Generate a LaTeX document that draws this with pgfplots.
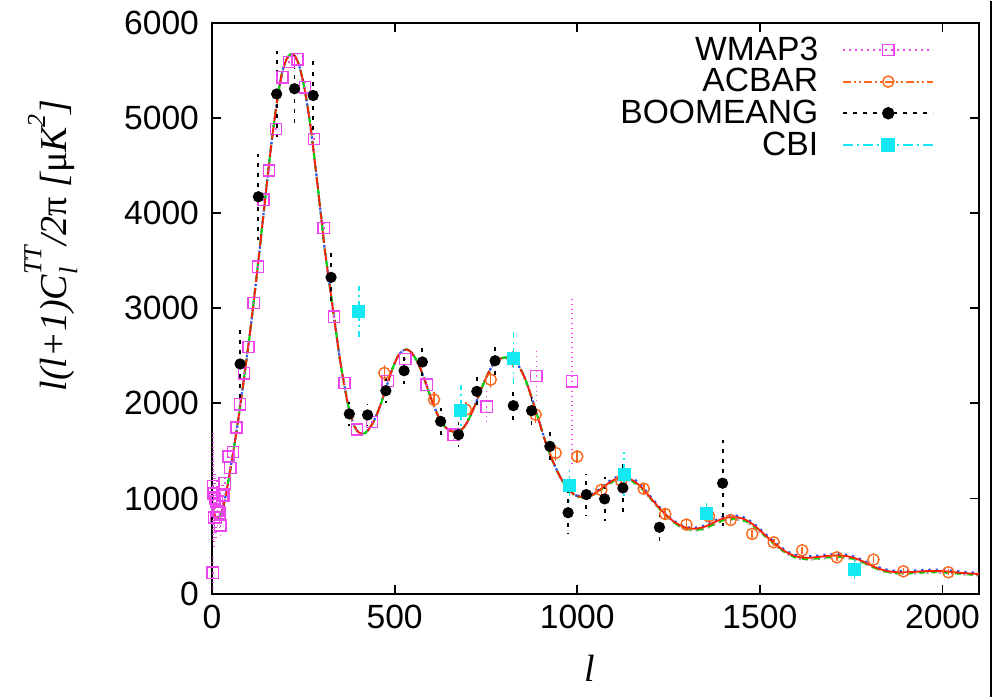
\documentclass[border=0pt]{standalone}
\usepackage{pgfplots}
\pgfplotsset{compat=1.18}
\usepackage{pgfplotstable}
\usepackage{fontspec}
\setmainfont{Liberation Sans}
\newfontfamily\serifit{Liberation Serif}

\definecolor{wmapc}{RGB}{238,70,238}
\definecolor{acbarc}{RGB}{255,102,25}
\definecolor{cbic}{RGB}{20,232,240}
\definecolor{thred}{RGB}{255,30,0}
\definecolor{thblue}{RGB}{40,80,255}
\definecolor{thgreen}{RGB}{0,215,0}
\definecolor{thgray}{RGB}{160,160,160}

% theory curve, shared part (l <= 1000)
\pgfplotstableread{
l d
2 900
10 800
20 810
30 900
40 1080
50 1300
60 1530
70 1780
80 2050
90 2330
100 2620
110 2930
120 3260
130 3600
140 3950
150 4300
160 4640
170 4950
180 5220
190 5440
200 5580
210 5650
220 5670
230 5630
240 5530
250 5370
260 5160
270 4900
280 4590
290 4260
300 3920
310 3580
320 3300
330 3020
340 2740
350 2470
360 2240
370 2030
380 1870
390 1760
400 1700
410 1680
420 1690
430 1730
440 1790
450 1870
460 1970
470 2080
480 2200
490 2320
500 2420
510 2500
520 2545
530 2565
540 2555
550 2515
560 2450
570 2370
580 2270
590 2160
600 2050
610 1950
620 1860
630 1790
640 1745
650 1715
660 1700
670 1700
680 1715
690 1750
700 1810
710 1890
720 1980
730 2080
740 2175
750 2265
760 2345
770 2405
780 2445
790 2470
800 2480
810 2480
820 2470
830 2440
840 2390
850 2320
860 2230
870 2120
880 2000
890 1880
900 1755
910 1630
920 1520
930 1420
940 1330
950 1250
960 1180
970 1125
980 1080
990 1045
1000 1025
}\lowl

% theory curves, l >= 1000: red blue green gray
\pgfplotstableread{
l r b g k
1000 1025 1030 1020 1018
1020 1015 1020 1010 1008
1040 1035 1045 1030 1027
1060 1085 1095 1078 1074
1080 1145 1160 1136 1131
1100 1195 1212 1184 1178
1120 1222 1240 1208 1202
1140 1212 1232 1198 1192
1160 1170 1190 1158 1152
1180 1100 1118 1090 1085
1200 1010 1025 1002 998
1220 920 932 912 908
1240 840 850 832 828
1260 770 780 762 758
1280 720 728 710 706
1300 690 698 678 674
1320 682 692 668 663
1340 692 705 676 670
1360 720 735 702 696
1380 758 775 740 733
1400 790 808 772 765
1420 803 822 786 779
1440 800 818 784 777
1460 778 795 764 758
1480 730 745 718 713
1500 665 680 655 650
1520 595 610 586 582
1540 528 542 518 514
1560 468 482 458 454
1580 420 434 410 406
1600 390 404 378 374
1620 378 392 365 360
1640 378 392 364 358
1660 385 399 370 364
1680 394 408 378 372
1700 400 414 384 378
1720 400 414 385 379
1740 392 406 378 373
1760 372 386 360 355
1780 342 355 332 328
1800 305 318 296 292
1820 270 283 262 258
1840 245 258 236 232
1860 230 243 220 216
1880 224 237 213 209
1900 224 237 212 208
1920 228 241 215 211
1940 233 246 220 216
1960 237 250 224 220
1980 238 251 225 221
2000 236 249 223 219
2020 230 243 218 214
2040 222 235 211 207
2060 215 228 205 201
2080 210 222 200 196
2100 206 218 196 192
}\highl

\pgfplotstableread{
l d e
2 220 180
3 1130 560
4 1050 480
6 800 350
8 1000 300
11 800 250
13 970 220
15 870 200
20 850 170
23 715 150
28 1030 130
32 1030 120
35 1160 110
45 1440 100
50 1320 90
58 1490 80
67 1745 70
77 1990 60
88 2315 55
100 2590 55
114 3055 55
126 3435 60
141 4140 60
156 4445 65
175 4880 70
193 5425 70
211 5585 75
234 5615 80
255 5320 85
279 4775 85
306 3840 80
334 2910 75
363 2215 60
397 1725 50
438 1805 55
481 2235 70
529 2465 80
588 2195 85
661 1670 100
752 1965 180
888 2285 300
986 2230 890
}\wmap

\pgfplotstableread{
l d e
472 2318 90
608 2038 80
695 1933 80
763 2248 90
823 2465 90
886 1880 90
941 1478 80
1000 1440 70
1066 1089 60
1120 1187 60
1182 1103 55
1241 837 50
1299 725 45
1361 812 45
1420 774 45
1479 627 40
1538 539 35
1616 455 35
1711 381 35
1811 357 35
1893 234 30
2016 224 30
}\acbar

\pgfplotstableread{
l d e
77 2413 370
127 4170 450
177 5250 450
226 5305 400
277 5234 380
326 3323 260
376 1888 130
426 1877 120
476 2132 130
526 2342 140
576 2434 150
626 1810 140
675 1670 130
725 2125 150
775 2447 170
825 1975 190
875 1922 190
925 1547 200
975 850 220
1025 1040 220
1075 995 230
1125 1110 300
1225 697 170
1398 1160 450
}\boom

\pgfplotstableread{
l d e
402 2965 265
681 1930 260
826 2476 270
979 1134 200
1128 1257 230
1354 848 120
1759 259 120
}\cbi

\newcommand{\subsz}{\fontsize{13}{15}\selectfont}
\tikzset{
  acbardash/.style={dash pattern=on 4pt off 1.5pt on 1pt off 1.5pt on 1pt off 1.5pt},
  boomdash/.style={dash pattern=on 2pt off 3pt},
  cbidash/.style={dash pattern=on 5pt off 2pt on 1pt off 2pt},
}

\begin{document}
\begin{tikzpicture}
\begin{axis}[
    scale only axis,
    width=383.5pt,
    height=285.5pt,
    xmin=0, xmax=2100,
    ymin=0, ymax=6000,
    xtick={0,500,...,2000},
    ytick={0,1000,...,6000},
    minor tick num=0,
    tick align=inside,
    major tick length=4.5pt,
    axis line style={line width=0.9pt},
    tick style={black, line width=0.9pt},
    tick label style={font=\fontsize{16.8}{20}\selectfont},
    /pgf/number format/assume math mode=true,
    /pgf/number format/set thousands separator={},
    xticklabel style={yshift=-2pt},
    yticklabel style={xshift=-3pt},
    xlabel={\serifit\itshape\fontsize{19}{22}\selectfont l},
    xlabel style={at={(axis description cs:0.493,-0.131)}, anchor=center},
    ylabel={\serifit\itshape\fontsize{19}{22}\selectfont l(l+1)C\makebox[0pt][l]{\raisebox{0.65em}{\subsz TT}}\makebox[0pt][l]{\raisebox{-0.3em}{\subsz l}}\phantom{\subsz TT}/2{\upshape π} [{\upshape μ}K\raisebox{0.55em}{\subsz 2}]},
    ylabel style={at={(axis description cs:-0.21,0.61)}, anchor=center},
    legend plot pos=right,
    legend cell align=right,
    legend style={at={(0.95,0.99)}, anchor=north east, draw=none, fill=none,
        font=\fontsize{16.8}{20}\selectfont, row sep=-1.4pt,
        /tikz/every odd column/.append style={column sep=10pt}},
    legend image code/.code={
        \draw[mark repeat=2, mark phase=2, #1] plot coordinates {(0pt,0pt) (22.5pt,0pt) (45pt,0pt)};
    },
]
% legend samples
\addlegendimage{wmapc, dotted, line width=1pt, mark=square, mark size=2.8pt, mark options={solid, line width=0.7pt}}
\addlegendentry{WMAP3}
\addlegendimage{acbarc, acbardash, line width=1pt, mark=o, mark size=2.8pt, mark options={solid, line width=0.7pt}}
\addlegendentry{ACBAR}
\addlegendimage{black, boomdash, line width=1pt, mark=*, mark size=2.6pt, mark options={solid}}
\addlegendentry{BOOMEANG}
\addlegendimage{cbic, cbidash, line width=1pt, mark=square*, mark size=3pt, mark options={solid}}
\addlegendentry{CBI}

% theory curves
\addplot[forget plot, thgray, dotted, line width=1.1pt, smooth] table[x=l,y=d]{\lowl};
\addplot[forget plot, thgray, dotted, line width=1.1pt, smooth] table[x=l,y=k]{\highl};
\addplot[forget plot, thblue, densely dotted, line width=1.1pt, smooth] table[x=l,y=d]{\lowl};
\addplot[forget plot, thblue, dash pattern=on 1.2pt off 2.4pt, line width=1.1pt, smooth] table[x=l,y=b]{\highl};
\addplot[forget plot, thgreen, dashed, line width=1pt, smooth] table[x=l,y=d]{\lowl};
\addplot[forget plot, thgreen, dashed, line width=1pt, smooth] table[x=l,y=g]{\highl};
\addplot[forget plot, thred, dash pattern=on 6pt off 3pt, line width=0.9pt, smooth] table[x=l,y=d]{\lowl};
\addplot[forget plot, thred, line width=0.9pt, smooth] table[x=l,y=r]{\highl};

% data with error bars
\addplot[forget plot, wmapc, only marks, mark=square, mark size=2.8pt, line width=0.7pt,
    error bars/.cd, y dir=both, y explicit, error mark=none,
    error bar style={dotted, line width=0.8pt}]
    table[x=l,y=d,y error=e]{\wmap};
\addplot[forget plot, acbarc, only marks, mark=o, mark size=2.8pt, line width=0.7pt,
    error bars/.cd, y dir=both, y explicit, error mark=none,
    error bar style={acbardash, line width=0.8pt}]
    table[x=l,y=d,y error=e]{\acbar};
\addplot[forget plot, black, only marks, mark=*, mark size=2.6pt,
    error bars/.cd, y dir=both, y explicit, error mark=none,
    error bar style={boomdash, line width=0.9pt}]
    table[x=l,y=d,y error=e]{\boom};
\addplot[forget plot, cbic, only marks, mark=square*, mark size=3pt,
    error bars/.cd, y dir=both, y explicit, error mark=none,
    error bar style={cbidash, line width=0.8pt}]
    table[x=l,y=d,y error=e]{\cbi};
\end{axis}
\path ([shift={(-106pt,-51.5pt)}]current axis.south west) rectangle ([shift={(8.5pt,11pt)}]current axis.north east);
\draw[line width=0.6pt] ([xshift=6pt,yshift=11pt]current axis.north east) -- ([xshift=6pt,yshift=-51.5pt]current axis.south east);
\end{tikzpicture}
\end{document}
